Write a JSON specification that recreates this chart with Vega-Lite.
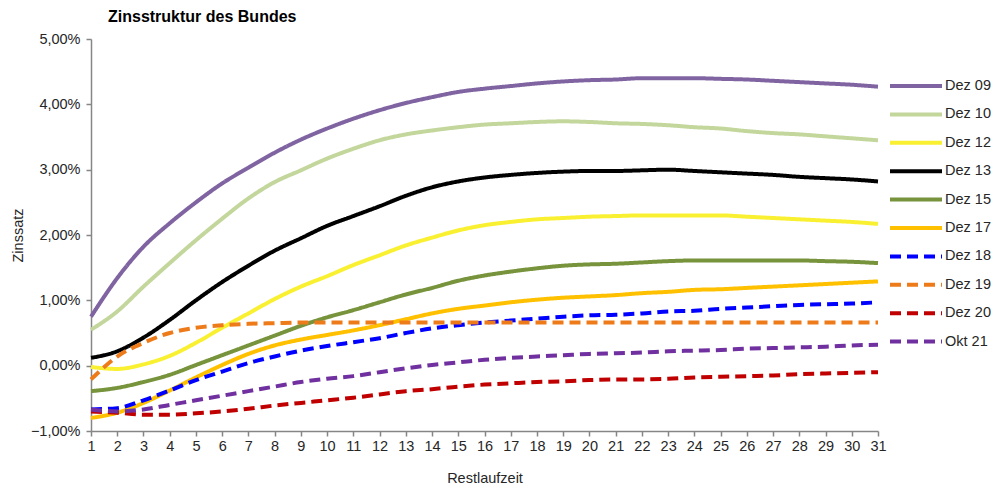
{
  "$schema": "https://vega.github.io/schema/vega-lite/v6.json",
  "autosize": {"type": "none"},
  "width": 787,
  "height": 392,
  "padding": {"left": 91, "top": 39, "right": 118, "bottom": 55},
  "background": "white",
  "title": {
    "text": "Zinsstruktur des Bundes",
    "anchor": "start",
    "frame": "group",
    "dx": 17,
    "dy": 22,
    "offset": 15,
    "baseline": "alphabetic",
    "font": "Liberation Sans",
    "fontSize": 16,
    "fontWeight": "bold",
    "color": "#000000"
  },
  "data": {
    "values": [
      {"t": 1, "Dez 09": 0.75, "Dez 10": 0.55, "Dez 12": -0.02, "Dez 13": 0.12, "Dez 15": -0.39, "Dez 17": -0.80, "Dez 18": -0.67, "Dez 19": -0.21, "Dez 20": -0.70, "Okt 21": -0.67},
      {"t": 2, "Dez 09": 1.34, "Dez 10": 0.83, "Dez 12": -0.05, "Dez 13": 0.22, "Dez 15": -0.34, "Dez 17": -0.72, "Dez 18": -0.65, "Dez 19": 0.14, "Dez 20": -0.72, "Okt 21": -0.70},
      {"t": 3, "Dez 09": 1.82, "Dez 10": 1.21, "Dez 12": 0.02, "Dez 13": 0.43, "Dez 15": -0.25, "Dez 17": -0.57, "Dez 18": -0.53, "Dez 19": 0.35, "Dez 20": -0.75, "Okt 21": -0.67},
      {"t": 4, "Dez 09": 2.18, "Dez 10": 1.57, "Dez 12": 0.15, "Dez 13": 0.70, "Dez 15": -0.14, "Dez 17": -0.38, "Dez 18": -0.38, "Dez 19": 0.50, "Dez 20": -0.75, "Okt 21": -0.60},
      {"t": 5, "Dez 09": 2.50, "Dez 10": 1.92, "Dez 12": 0.35, "Dez 13": 1.00, "Dez 15": 0.01, "Dez 17": -0.18, "Dez 18": -0.22, "Dez 19": 0.58, "Dez 20": -0.73, "Okt 21": -0.53},
      {"t": 6, "Dez 09": 2.79, "Dez 10": 2.25, "Dez 12": 0.58, "Dez 13": 1.28, "Dez 15": 0.16, "Dez 17": 0.01, "Dez 18": -0.09, "Dez 19": 0.62, "Dez 20": -0.70, "Okt 21": -0.46},
      {"t": 7, "Dez 09": 3.03, "Dez 10": 2.56, "Dez 12": 0.80, "Dez 13": 1.53, "Dez 15": 0.31, "Dez 17": 0.18, "Dez 18": 0.04, "Dez 19": 0.64, "Dez 20": -0.66, "Okt 21": -0.39},
      {"t": 8, "Dez 09": 3.26, "Dez 10": 2.81, "Dez 12": 1.02, "Dez 13": 1.76, "Dez 15": 0.46, "Dez 17": 0.31, "Dez 18": 0.14, "Dez 19": 0.65, "Dez 20": -0.61, "Okt 21": -0.32},
      {"t": 9, "Dez 09": 3.46, "Dez 10": 2.99, "Dez 12": 1.21, "Dez 13": 1.95, "Dez 15": 0.61, "Dez 17": 0.40, "Dez 18": 0.23, "Dez 19": 0.66, "Dez 20": -0.57, "Okt 21": -0.25},
      {"t": 10, "Dez 09": 3.63, "Dez 10": 3.17, "Dez 12": 1.37, "Dez 13": 2.14, "Dez 15": 0.74, "Dez 17": 0.47, "Dez 18": 0.30, "Dez 19": 0.66, "Dez 20": -0.53, "Okt 21": -0.20},
      {"t": 11, "Dez 09": 3.78, "Dez 10": 3.32, "Dez 12": 1.54, "Dez 13": 2.29, "Dez 15": 0.85, "Dez 17": 0.54, "Dez 18": 0.36, "Dez 19": 0.66, "Dez 20": -0.49, "Okt 21": -0.16},
      {"t": 12, "Dez 09": 3.91, "Dez 10": 3.45, "Dez 12": 1.69, "Dez 13": 2.44, "Dez 15": 0.97, "Dez 17": 0.62, "Dez 18": 0.42, "Dez 19": 0.66, "Dez 20": -0.44, "Okt 21": -0.10},
      {"t": 13, "Dez 09": 4.02, "Dez 10": 3.54, "Dez 12": 1.84, "Dez 13": 2.60, "Dez 15": 1.09, "Dez 17": 0.71, "Dez 18": 0.50, "Dez 19": 0.66, "Dez 20": -0.39, "Okt 21": -0.04},
      {"t": 14, "Dez 09": 4.11, "Dez 10": 3.60, "Dez 12": 1.96, "Dez 13": 2.73, "Dez 15": 1.19, "Dez 17": 0.80, "Dez 18": 0.57, "Dez 19": 0.66, "Dez 20": -0.36, "Okt 21": 0.01},
      {"t": 15, "Dez 09": 4.19, "Dez 10": 3.65, "Dez 12": 2.07, "Dez 13": 2.82, "Dez 15": 1.30, "Dez 17": 0.87, "Dez 18": 0.62, "Dez 19": 0.66, "Dez 20": -0.32, "Okt 21": 0.05},
      {"t": 16, "Dez 09": 4.24, "Dez 10": 3.69, "Dez 12": 2.15, "Dez 13": 2.88, "Dez 15": 1.38, "Dez 17": 0.92, "Dez 18": 0.66, "Dez 19": 0.66, "Dez 20": -0.29, "Okt 21": 0.09},
      {"t": 17, "Dez 09": 4.28, "Dez 10": 3.71, "Dez 12": 2.20, "Dez 13": 2.92, "Dez 15": 1.44, "Dez 17": 0.97, "Dez 18": 0.69, "Dez 19": 0.66, "Dez 20": -0.27, "Okt 21": 0.12},
      {"t": 18, "Dez 09": 4.32, "Dez 10": 3.73, "Dez 12": 2.24, "Dez 13": 2.95, "Dez 15": 1.49, "Dez 17": 1.01, "Dez 18": 0.72, "Dez 19": 0.66, "Dez 20": -0.25, "Okt 21": 0.14},
      {"t": 19, "Dez 09": 4.35, "Dez 10": 3.74, "Dez 12": 2.26, "Dez 13": 2.97, "Dez 15": 1.53, "Dez 17": 1.04, "Dez 18": 0.75, "Dez 19": 0.66, "Dez 20": -0.24, "Okt 21": 0.16},
      {"t": 20, "Dez 09": 4.37, "Dez 10": 3.73, "Dez 12": 2.28, "Dez 13": 2.98, "Dez 15": 1.55, "Dez 17": 1.06, "Dez 18": 0.77, "Dez 19": 0.66, "Dez 20": -0.22, "Okt 21": 0.18},
      {"t": 21, "Dez 09": 4.38, "Dez 10": 3.71, "Dez 12": 2.29, "Dez 13": 2.98, "Dez 15": 1.56, "Dez 17": 1.08, "Dez 18": 0.78, "Dez 19": 0.66, "Dez 20": -0.21, "Okt 21": 0.19},
      {"t": 22, "Dez 09": 4.40, "Dez 10": 3.70, "Dez 12": 2.30, "Dez 13": 2.99, "Dez 15": 1.58, "Dez 17": 1.11, "Dez 18": 0.80, "Dez 19": 0.66, "Dez 20": -0.21, "Okt 21": 0.20},
      {"t": 23, "Dez 09": 4.40, "Dez 10": 3.68, "Dez 12": 2.30, "Dez 13": 3.00, "Dez 15": 1.60, "Dez 17": 1.13, "Dez 18": 0.83, "Dez 19": 0.66, "Dez 20": -0.20, "Okt 21": 0.22},
      {"t": 24, "Dez 09": 4.40, "Dez 10": 3.65, "Dez 12": 2.30, "Dez 13": 2.98, "Dez 15": 1.61, "Dez 17": 1.16, "Dez 18": 0.84, "Dez 19": 0.66, "Dez 20": -0.18, "Okt 21": 0.23},
      {"t": 25, "Dez 09": 4.39, "Dez 10": 3.63, "Dez 12": 2.30, "Dez 13": 2.96, "Dez 15": 1.61, "Dez 17": 1.17, "Dez 18": 0.87, "Dez 19": 0.66, "Dez 20": -0.17, "Okt 21": 0.24},
      {"t": 26, "Dez 09": 4.38, "Dez 10": 3.59, "Dez 12": 2.28, "Dez 13": 2.94, "Dez 15": 1.61, "Dez 17": 1.19, "Dez 18": 0.89, "Dez 19": 0.66, "Dez 20": -0.16, "Okt 21": 0.26},
      {"t": 27, "Dez 09": 4.36, "Dez 10": 3.56, "Dez 12": 2.26, "Dez 13": 2.92, "Dez 15": 1.61, "Dez 17": 1.21, "Dez 18": 0.91, "Dez 19": 0.66, "Dez 20": -0.15, "Okt 21": 0.27},
      {"t": 28, "Dez 09": 4.34, "Dez 10": 3.54, "Dez 12": 2.24, "Dez 13": 2.89, "Dez 15": 1.61, "Dez 17": 1.23, "Dez 18": 0.93, "Dez 19": 0.66, "Dez 20": -0.13, "Okt 21": 0.28},
      {"t": 29, "Dez 09": 4.32, "Dez 10": 3.51, "Dez 12": 2.22, "Dez 13": 2.87, "Dez 15": 1.60, "Dez 17": 1.25, "Dez 18": 0.94, "Dez 19": 0.66, "Dez 20": -0.12, "Okt 21": 0.29},
      {"t": 30, "Dez 09": 4.30, "Dez 10": 3.48, "Dez 12": 2.20, "Dez 13": 2.85, "Dez 15": 1.59, "Dez 17": 1.27, "Dez 18": 0.95, "Dez 19": 0.66, "Dez 20": -0.11, "Okt 21": 0.31},
      {"t": 31, "Dez 09": 4.27, "Dez 10": 3.45, "Dez 12": 2.17, "Dez 13": 2.82, "Dez 15": 1.57, "Dez 17": 1.29, "Dez 18": 0.97, "Dez 19": 0.66, "Dez 20": -0.10, "Okt 21": 0.32}
    ]
  },
  "transform": [
    {"fold": ["Dez 09", "Dez 10", "Dez 12", "Dez 13", "Dez 15", "Dez 17", "Dez 18", "Dez 19", "Dez 20", "Okt 21"], "as": ["s", "v"]}
  ],
  "mark": {"type": "line", "interpolate": "monotone", "strokeWidth": 4},
  "encoding": {
    "x": {
      "field": "t",
      "type": "quantitative",
      "scale": {"domain": [1, 31], "nice": false, "zero": false},
      "axis": {
        "title": "Restlaufzeit",
        "values": [1,2,3,4,5,6,7,8,9,10,11,12,13,14,15,16,17,18,19,20,21,22,23,24,25,26,27,28,29,30,31],
        "format": "d",
        "labelFlush": false,
        "labelOverlap": false,
        "labelPadding": 3,
        "titleX": 393.5,
        "titleY": 47,
        "titleBaseline": "middle",
        "titleAnchor": null
      }
    },
    "y": {
      "field": "v",
      "type": "quantitative",
      "scale": {"domain": [-1, 5], "nice": false, "zero": false},
      "axis": {
        "title": "Zinssatz",
        "values": [-1, 0, 1, 2, 3, 4, 5],
        "labelExpr": "replace(format(datum.value, '.2f'), '.', ',') + '%'",
        "labelFlush": false,
        "labelPadding": 6,
        "titleX": -73,
        "titleY": 196,
        "titleAngle": -90,
        "titleBaseline": "middle",
        "titleAlign": "center",
        "titleAnchor": null
      }
    },
    "color": {
      "field": "s",
      "type": "nominal",
      "title": null,
      "scale": {
        "domain": ["Dez 09", "Dez 10", "Dez 12", "Dez 13", "Dez 15", "Dez 17", "Dez 18", "Dez 19", "Dez 20", "Okt 21"],
        "range": ["#8064A2", "#C3D69B", "#FAF032", "#000000", "#77933C", "#FFC000", "#0000FF", "#EE7B1A", "#C00000", "#7030A0"]
      }
    },
    "strokeDash": {
      "field": "s",
      "type": "nominal",
      "title": null,
      "scale": {
        "domain": ["Dez 09", "Dez 10", "Dez 12", "Dez 13", "Dez 15", "Dez 17", "Dez 18", "Dez 19", "Dez 20", "Okt 21"],
        "range": [[1, 0], [1, 0], [1, 0], [1, 0], [1, 0], [1, 0], [11, 6], [11, 6], [11, 6], [11, 6]]
      }
    }
  },
  "config": {
    "view": {"stroke": null},
    "font": "Liberation Sans",
    "axis": {
      "grid": false,
      "domainColor": "#868686",
      "domainWidth": 1.5,
      "tickColor": "#868686",
      "tickWidth": 1.5,
      "tickSize": 5,
      "labelFont": "Liberation Sans",
      "labelFontSize": 14.5,
      "labelColor": "#262626",
      "titleFont": "Liberation Sans",
      "titleFontSize": 14.5,
      "titleFontWeight": "normal",
      "titleColor": "#262626"
    },
    "legend": {
      "orient": "none",
      "legendX": 797,
      "legendY": 32,
      "symbolType": "M-2,0H2",
      "symbolSize": 676,
      "symbolOffset": 13,
      "symbolStrokeWidth": 4,
      "labelFont": "Liberation Sans",
      "labelFontSize": 14.5,
      "labelColor": "#262626",
      "labelOffset": 14,
      "rowPadding": 5.4,
      "padding": 0
    }
  }
}
